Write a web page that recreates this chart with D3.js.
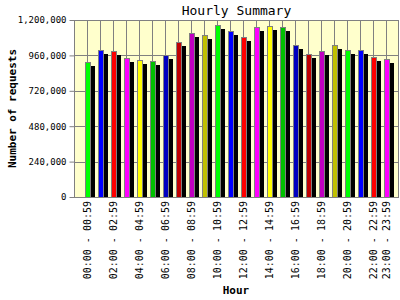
<!DOCTYPE html>
<html>
<head>
<meta charset="utf-8">
<script src="https://cdn.jsdelivr.net/npm/d3@7"></script>
<style>
  html, body { margin: 0; padding: 0; background: #ffffff; }
  svg { display: block; }
  text { font-family: "DejaVu Sans Mono", "Liberation Mono", monospace; }
</style>
</head>
<body>
<svg id="chart" width="400" height="300"></svg>
<script>
const hours = ["00:00 - 00:59","01:00 - 01:59","02:00 - 02:59","03:00 - 03:59","04:00 - 04:59","05:00 - 05:59",
  "06:00 - 06:59","07:00 - 07:59","08:00 - 08:59","09:00 - 09:59","10:00 - 10:59","11:00 - 11:59",
  "12:00 - 12:59","13:00 - 13:59","14:00 - 14:59","15:00 - 15:59","16:00 - 16:59","17:00 - 17:59",
  "18:00 - 18:59","19:00 - 19:59","20:00 - 20:59","21:00 - 21:59","22:00 - 22:59","23:00 - 23:59"];
const shownHours = ["00:00 - 00:59","02:00 - 02:59","04:00 - 04:59","06:00 - 06:59","08:00 - 08:59","10:00 - 10:59",
  "12:00 - 12:59","14:00 - 14:59","16:00 - 16:59","18:00 - 18:59","20:00 - 20:59","22:00 - 22:59","23:00 - 23:59"];
const requests = [916000, 995000, 988000, 941000, 927000, 920000, 963000, 1049000, 1110000, 1098000, 1166000, 1123000,
  1083000, 1153000, 1159000, 1153000, 1031000, 970000, 990000, 1033000, 997000, 997000, 950000, 936000];
const pages = [891000, 972000, 965000, 918000, 904000, 897000, 938000, 1024000, 1085000, 1071000, 1139000, 1100000,
  1058000, 1128000, 1134000, 1128000, 1006000, 945000, 965000, 1006000, 972000, 972000, 924000, 911000];
const barColors = ["#00ff00","#0000ff","#ff0000","#ff00ff","#ffff00","#00c000","#0000c0","#c00000","#c000c0","#c0c000"];
const yTicks = [0, 240000, 480000, 720000, 960000, 1200000];

const svg = d3.select("#chart");
const L = 74, R = 399, T = 20, B = 197;

const x = d3.scalePoint().domain(hours).range([L, R]).padding(1);
const y = d3.scaleLinear().domain([0, 1200000]).range([B, T]);

// plot background
svg.append("rect").attr("x", L).attr("y", T).attr("width", R - L).attr("height", B - T)
  .attr("fill", "#ffffcc");

// vertical grid
svg.append("g").selectAll("line").data(hours).join("line")
  .attr("x1", d => Math.round(x(d)) + 0.5).attr("x2", d => Math.round(x(d)) + 0.5)
  .attr("y1", T).attr("y2", B)
  .attr("stroke", "#808080").attr("stroke-width", 1);

// y axis with horizontal grid
const yAxis = svg.append("g").attr("transform", `translate(${L + 0.5},0)`)
  .call(d3.axisLeft(y).tickValues(yTicks).tickFormat(d3.format(",")).tickSize(5).tickPadding(3));
yAxis.select(".domain").remove();
yAxis.selectAll(".tick line").attr("stroke", "#808080");
yAxis.selectAll(".tick text").attr("font-size", 9).attr("fill", "#000")
  .style("font-family", "'DejaVu Sans Mono', monospace");
svg.append("g").selectAll("line").data(yTicks).join("line")
  .attr("x1", L).attr("x2", R)
  .attr("y1", d => Math.round(y(d)) + 0.5).attr("y2", d => Math.round(y(d)) + 0.5)
  .attr("stroke", "#808080").attr("stroke-width", 1);

// bars
const bars = svg.append("g");
bars.selectAll("rect.req").data(hours).join("rect").attr("class", "req")
  .attr("x", d => Math.round(x(d)) - 2 + 0.5)
  .attr("y", (d, i) => Math.round(y(requests[i])) + 0.5)
  .attr("width", 5)
  .attr("height", (d, i) => B - Math.round(y(requests[i])))
  .attr("fill", (d, i) => barColors[i % barColors.length])
  .attr("stroke", "#808080").attr("stroke-width", 1);
bars.selectAll("rect.pg").data(hours).join("rect").attr("class", "pg")
  .attr("x", d => Math.round(x(d)) + 4)
  .attr("y", (d, i) => Math.round(y(pages[i])))
  .attr("width", 4)
  .attr("height", (d, i) => B - Math.round(y(pages[i])))
  .attr("fill", "#000000");

// plot border
svg.append("rect").attr("x", L + 0.5).attr("y", T + 0.5).attr("width", R - L - 1).attr("height", B - T)
  .attr("fill", "none").attr("stroke", "#808080").attr("stroke-width", 1);

// x axis labels
const xAxis = svg.append("g").attr("transform", `translate(0,${B})`)
  .call(d3.axisBottom(x).tickValues(shownHours).tickSize(0).tickPadding(0));
xAxis.select(".domain").remove();
xAxis.selectAll(".tick text")
  .attr("font-size", 10).attr("fill", "#000")
  .style("font-family", "'DejaVu Sans Mono', monospace")
  .attr("text-anchor", "end")
  .attr("dy", "0.35em")
  .attr("transform", "translate(0,4) rotate(-90)")
  .attr("x", 0).attr("y", 0);

// title
svg.append("text").attr("x", (L + R) / 2).attr("y", 15).attr("text-anchor", "middle")
  .attr("font-size", 13).attr("fill", "#000").text("Hourly Summary");

// axis titles
svg.append("text").attr("x", 236).attr("y", 294).attr("text-anchor", "middle")
  .attr("font-size", 11).attr("font-weight", "bold").attr("fill", "#000").text("Hour");
svg.append("text").attr("transform", `translate(16,${(T + B) / 2}) rotate(-90)`)
  .attr("text-anchor", "middle")
  .attr("font-size", 11).attr("font-weight", "bold").attr("fill", "#000").text("Number of requests");
</script>
</body>
</html>
